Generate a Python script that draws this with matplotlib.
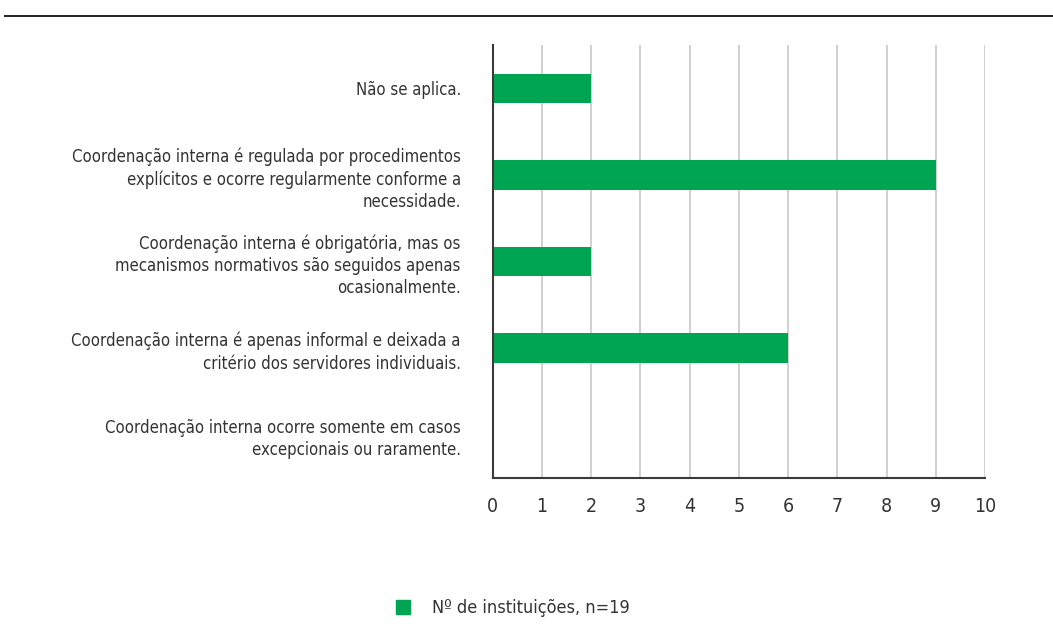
import matplotlib
matplotlib.use("Agg")
import matplotlib.pyplot as plt
from matplotlib.lines import Line2D
from matplotlib.patches import Patch

plt.rcParams['font.family'] = ['DejaVu Sans']
plt.rcParams['font.stretch'] = 'condensed'

categories = [
    "Não se aplica.",
    "Coordenação interna é regulada por procedimentos\nexplícitos e ocorre regularmente conforme a\nnecessidade.",
    "Coordenação interna é obrigatória, mas os\nmecanismos normativos são seguidos apenas\nocasionalmente.",
    "Coordenação interna é apenas informal e deixada a\ncritério dos servidores individuais.",
    "Coordenação interna ocorre somente em casos\nexcepcionais ou raramente.",
]
values = [2, 9, 2, 6, 0]
series_name = "Nº de instituições, n=19"

GREEN = "#00A551"
TEXT = "#333333"

fig = plt.figure(figsize=(10.53, 6.32), dpi=100)
ax = fig.add_axes([0.468, 0.2437, 0.4675, 0.6851])

pos = list(range(len(categories)))
ax.barh(pos, values, height=0.34, color=GREEN, zorder=3)
ax.set_ylim(len(categories) - 0.5, -0.5)
ax.set_xlim(0, 10)
ax.set_xticks(range(0, 11))
ax.set_yticks(pos)
ax.set_yticklabels(categories, fontsize=12, color=TEXT, ha='right', linespacing=1.3)
ax.tick_params(axis='y', length=0, pad=23)
ax.tick_params(axis='x', length=0, pad=14, labelsize=14, labelcolor=TEXT)

ax.grid(axis='x', color='#c8c8c8', linewidth=1.2, zorder=0)
for s in ['top', 'right']:
    ax.spines[s].set_visible(False)
for s in ['left', 'bottom']:
    ax.spines[s].set_color('#3a3a3a')
    ax.spines[s].set_linewidth(1.5)
    ax.spines[s].set_zorder(4)

# top rule
fig.add_artist(Line2D([0.005, 1.0], [0.974, 0.974], color='#222222', linewidth=1.4))

fig.legend(handles=[Patch(color=GREEN, label=series_name)],
           loc='center', bbox_to_anchor=(0.487, 0.038), frameon=False,
           fontsize=13, handlelength=0.8, handleheight=0.8, handletextpad=1.2,
           labelcolor=TEXT)

fig.savefig("out.png", dpi=100)
